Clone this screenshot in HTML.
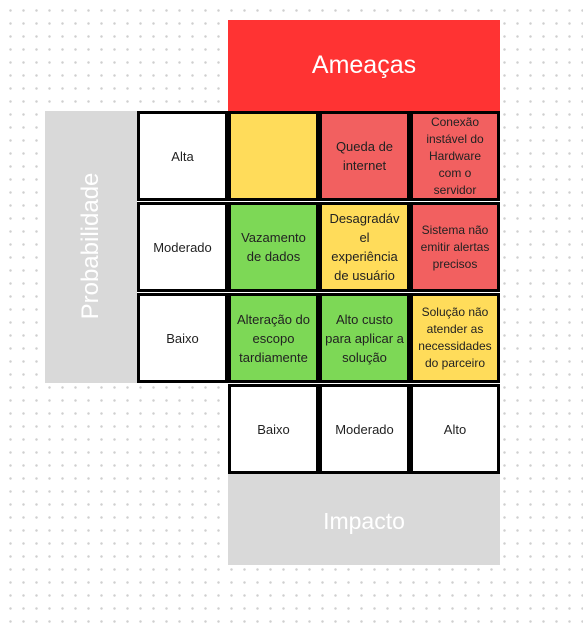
<!DOCTYPE html>
<html><head><meta charset="utf-8"><style>
body{margin:0;width:583px;height:625px;overflow:hidden;background:#fff;
background-image:radial-gradient(circle,#cfcfcf 1.1px,transparent 1.4px);background-size:13px 13px;background-position:4px 4px;
font-family:"Liberation Sans","DejaVu Sans",sans-serif;position:relative}
.a{position:absolute;box-sizing:border-box}
.c{position:absolute;box-sizing:border-box;border:3px solid #000;display:flex;align-items:center;justify-content:center;text-align:center;font-size:13px;line-height:19px;color:#222;padding:0 3px}
.w{background:#fff}.y{background:#ffdc5a}.r{background:#f26060}.g{background:#7dd856}
</style></head><body>
<div class="a" style="left:228px;top:20px;width:272px;height:91px;background:#ff3333;color:#fff;font-size:25px;display:flex;align-items:center;justify-content:center">Ameaças</div>
<div class="a" style="left:45px;top:111px;width:92px;height:272px;background:#d9d9d9"></div>
<div class="a" style="left:91px;top:246px;width:0;height:0"><div style="position:absolute;left:-100px;top:-15px;width:200px;height:30px;line-height:30px;text-align:center;color:#fff;font-size:24px;transform:rotate(-90deg)">Probabilidade</div></div>
<div class="a" style="left:228px;top:474px;width:272px;height:91px;background:#d9d9d9;color:#fff;font-size:23px;display:flex;align-items:center;justify-content:center;padding-top:4px">Impacto</div>

<div class="c w" style="left:137px;top:111px;width:91px;height:90px">Alta</div>
<div class="c y" style="left:228px;top:111px;width:91px;height:90px"></div>
<div class="c r" style="left:319px;top:111px;width:91px;height:90px">Queda de internet</div>
<div class="c r" style="left:410px;top:111px;width:90px;height:90px;font-size:12px;line-height:17px">Conexão instável do Hardware com o servidor</div>

<div class="c w" style="left:137px;top:202px;width:91px;height:90px">Moderado</div>
<div class="c g" style="left:228px;top:202px;width:91px;height:90px">Vazamento de dados</div>
<div class="c y" style="left:319px;top:202px;width:91px;height:90px">Desagradáv<br>el experiência de usuário</div>
<div class="c r" style="left:410px;top:202px;width:90px;height:90px;font-size:12px;line-height:17px">Sistema não emitir alertas precisos</div>

<div class="c w" style="left:137px;top:293px;width:91px;height:90px">Baixo</div>
<div class="c g" style="left:228px;top:293px;width:91px;height:90px">Alteração do escopo tardiamente</div>
<div class="c g" style="left:319px;top:293px;width:91px;height:90px">Alto custo para aplicar a solução</div>
<div class="c y" style="left:410px;top:293px;width:90px;height:90px;font-size:12px;line-height:17px">Solução não atender as necessidades do parceiro</div>

<div class="c w" style="left:228px;top:384px;width:91px;height:90px">Baixo</div>
<div class="c w" style="left:319px;top:384px;width:91px;height:90px">Moderado</div>
<div class="c w" style="left:410px;top:384px;width:90px;height:90px">Alto</div>
</body></html>
